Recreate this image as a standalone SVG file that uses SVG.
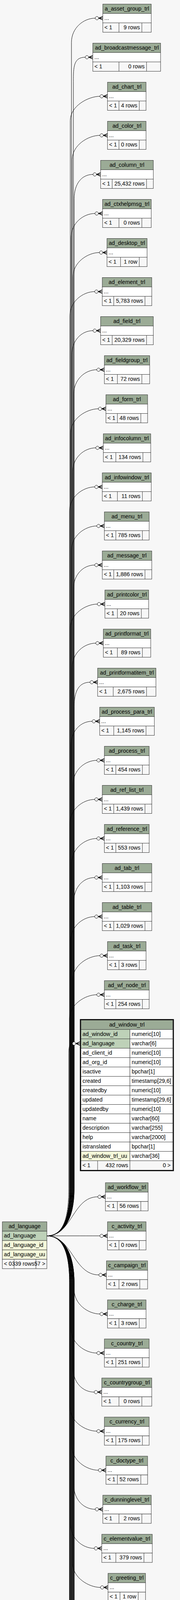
<svg xmlns="http://www.w3.org/2000/svg" width="461" height="6055" viewBox="0 0 461 6055">
<style>
text{font-family:"Liberation Sans",Arial,Helvetica,sans-serif;font-size:14.2px;fill:#000}
.h{fill:#9bab96;stroke:#333;stroke-width:1}
.b{fill:#fff;stroke:#333;stroke-width:1}
.f{fill:#f7f7f7;stroke:#333;stroke-width:1}
.pk{fill:#bed1b8;stroke:#333;stroke-width:1}
.ix{fill:#f4f7da;stroke:#333;stroke-width:1}
.s{fill:none;stroke:#333;stroke-width:1}
.c{text-anchor:middle}
.e{text-anchor:end}
#connectors path{fill:none;stroke:#000;stroke-width:1;marker-end:url(#cr)}
</style>
<defs>
<marker id="cr" markerUnits="userSpaceOnUse" markerWidth="21" markerHeight="13" viewBox="-1 -6.5 21 13" refX="0" refY="0" orient="auto" overflow="visible">
<circle cx="4.3" cy="0" r="4.3" fill="#fff" stroke="#000" stroke-width="1"/>
<path d="M19.3,-4.6 L9,0 L19.3,4.6 M9,0 H19.3" fill="none" stroke="#000" stroke-width="1.6"/>
</marker>
</defs>
<rect x="0" y="0" width="461" height="6055" fill="#f7f7f7"/>
<g id="connectors">
<path d="M120,3163.8 C160,3163.8 183,3123.8 183,3043.8 L183,108.5 C183,71.5 214,46.5 244,46.5"/>
<path d="M120,3163.8 C160,3163.8 188,3123.8 188,3043.8 L188,208.5 C188,171.5 188.4,146.5 218.4,146.5"/>
<path d="M120,3163.8 C160,3163.8 180,3123.8 180,3043.8 L180,308.5 C180,271.5 226,246.5 256,246.5"/>
<path d="M120,3163.8 C160,3163.8 185,3123.8 185,3043.8 L185,408.5 C185,371.5 226,346.5 256,346.5"/>
<path d="M120,3163.8 C160,3163.8 190,3123.8 190,3043.8 L190,508.5 C190,471.5 208.4,446.5 238.4,446.5"/>
<path d="M120,3163.8 C160,3163.8 182,3123.8 182,3043.8 L182,608.5 C182,571.5 213.4,546.5 243.4,546.5"/>
<path d="M120,3163.8 C160,3163.8 187,3123.8 187,3043.8 L187,708.5 C187,671.5 224.7,646.5 254.7,646.5"/>
<path d="M120,3163.8 C160,3163.8 179,3123.8 179,3043.8 L179,808.5 C179,771.5 212.7,746.5 242.7,746.5"/>
<path d="M120,3163.8 C160,3163.8 184,3123.8 184,3043.8 L184,908.5 C184,871.5 208.4,846.5 238.4,846.5"/>
<path d="M120,3163.8 C160,3163.8 189,3123.8 189,3043.8 L189,1008.5 C189,971.5 218,946.5 248,946.5"/>
<path d="M120,3163.8 C160,3163.8 181,3123.8 181,3043.8 L181,1108.5 C181,1071.5 222,1046.5 252,1046.5"/>
<path d="M120,3163.8 C160,3163.8 186,3123.8 186,3043.8 L186,1208.5 C186,1171.5 215.4,1146.5 245.4,1146.5"/>
<path d="M120,3163.8 C160,3163.8 178,3123.8 178,3043.8 L178,1308.5 C178,1271.5 212.7,1246.5 242.7,1246.5"/>
<path d="M120,3163.8 C160,3163.8 183,3123.8 183,3043.8 L183,1408.5 C183,1371.5 218,1346.5 248,1346.5"/>
<path d="M120,3163.8 C160,3163.8 188,3123.8 188,3043.8 L188,1508.5 C188,1471.5 212.7,1446.5 242.7,1446.5"/>
<path d="M120,3163.8 C160,3163.8 180,3123.8 180,3043.8 L180,1608.5 C180,1571.5 219.4,1546.5 249.4,1546.5"/>
<path d="M120,3163.8 C160,3163.8 185,3123.8 185,3043.8 L185,1708.5 C185,1671.5 215.4,1646.5 245.4,1646.5"/>
<path d="M120,3163.8 C160,3163.8 190,3123.8 190,3043.8 L190,1808.5 C190,1771.5 200.7,1746.5 230.7,1746.5"/>
<path d="M120,3163.8 C160,3163.8 182,3123.8 182,3043.8 L182,1908.5 C182,1871.5 206,1846.5 236,1846.5"/>
<path d="M120,3163.8 C160,3163.8 187,3123.8 187,3043.8 L187,2008.5 C187,1971.5 218,1946.5 248,1946.5"/>
<path d="M120,3163.8 C160,3163.8 179,3123.8 179,3043.8 L179,2108.5 C179,2071.5 212.7,2046.5 242.7,2046.5"/>
<path d="M120,3163.8 C160,3163.8 184,3123.8 184,3043.8 L184,2208.5 C184,2171.5 218,2146.5 248,2146.5"/>
<path d="M120,3163.8 C160,3163.8 189,3123.8 189,3043.8 L189,2308.5 C189,2271.5 212.7,2246.5 242.7,2246.5"/>
<path d="M120,3163.8 C160,3163.8 181,3123.8 181,3043.8 L181,2408.5 C181,2371.5 212.7,2346.5 242.7,2346.5"/>
<path d="M120,3163.8 C160,3163.8 186,3123.8 186,3043.8 L186,2508.5 C186,2471.5 226,2446.5 256,2446.5"/>
<path d="M120,3163.8 C160,3163.8 178,3123.8 178,3043.8 L178,2608.5 C178,2571.5 218,2546.5 248,2546.5"/>
<path d="M120,3163.8 C160,3163.8 176,3123.8 176,3043.8 L176,2700 C176,2680 178,2671.5 185.4,2671.5"/>
<path d="M120,3163.8 C185,3163.8 185.7,3063.8 250.7,3063.8"/>
<path d="M120,3163.8 C170,3163.8 206,3163.8 256,3163.8"/>
<path d="M120,3163.8 C185,3163.8 188.4,3263.8 253.4,3263.8"/>
<path d="M120,3163.8 C160,3163.8 190,3203.8 190,3283.8 L190,3301.8 C190,3338.8 226,3363.8 256,3363.8"/>
<path d="M120,3163.8 C160,3163.8 182,3203.8 182,3283.8 L182,3401.8 C182,3438.8 218,3463.8 248,3463.8"/>
<path d="M120,3163.8 C160,3163.8 187,3203.8 187,3283.8 L187,3501.8 C187,3538.8 211.4,3563.8 241.4,3563.8"/>
<path d="M120,3163.8 C160,3163.8 179,3203.8 179,3283.8 L179,3601.8 C179,3638.8 218,3663.8 248,3663.8"/>
<path d="M120,3163.8 C160,3163.8 184,3203.8 184,3283.8 L184,3701.8 C184,3738.8 222,3763.8 252,3763.8"/>
<path d="M120,3163.8 C160,3163.8 189,3203.8 189,3283.8 L189,3801.8 C189,3838.8 214,3863.8 244,3863.8"/>
<path d="M120,3163.8 C160,3163.8 181,3203.8 181,3283.8 L181,3901.8 C181,3938.8 211.4,3963.8 241.4,3963.8"/>
<path d="M120,3163.8 C160,3163.8 186,3203.8 186,3283.8 L186,4001.8 C186,4038.8 227.4,4063.8 257.4,4063.8"/>
<path d="M120,3163.8 C160,3163.8 178,3203.8 178,3283.8 L178,4101.8 C178,4138.8 211.4,4163.8 241.4,4163.8"/>
<path d="M120,3163.8 C160,3163.8 183,3203.8 183,3283.8 L183,4201.8 C183,4238.8 218,4263.8 248,4263.8"/>
<path d="M120,3163.8 C160,3163.8 188,3203.8 188,3283.8 L188,4301.8 C188,4338.8 216.7,4363.8 246.7,4363.8"/>
<path d="M120,3163.8 C160,3163.8 180,3203.8 180,3283.8 L180,4401.8 C180,4438.8 219.4,4463.8 249.4,4463.8"/>
<path d="M120,3163.8 C160,3163.8 185,3203.8 185,3283.8 L185,4501.8 C185,4538.8 226,4563.8 256,4563.8"/>
<path d="M120,3163.8 C160,3163.8 190,3203.8 190,3283.8 L190,4601.8 C190,4638.8 216.7,4663.8 246.7,4663.8"/>
<path d="M120,3163.8 C160,3163.8 182,3203.8 182,3283.8 L182,4701.8 C182,4738.8 222,4763.8 252,4763.8"/>
<path d="M120,3163.8 C160,3163.8 187,3203.8 187,3283.8 L187,4801.8 C187,4838.8 222,4863.8 252,4863.8"/>
<path d="M120,3163.8 C160,3163.8 179,3203.8 179,3283.8 L179,4901.8 C179,4938.8 226,4963.8 256,4963.8"/>
<path d="M120,3163.8 C160,3163.8 184,3203.8 184,3283.8 L184,5001.8 C184,5038.8 200.7,5063.8 230.7,5063.8"/>
<path d="M120,3163.8 C160,3163.8 189,3203.8 189,3283.8 L189,5101.8 C189,5138.8 195.4,5163.8 225.4,5163.8"/>
<path d="M120,3163.8 C160,3163.8 181,3203.8 181,3283.8 L181,5201.8 C181,5238.8 222,5263.8 252,5263.8"/>
<path d="M120,3163.8 C160,3163.8 186,3203.8 186,3283.8 L186,5301.8 C186,5338.8 191.4,5363.8 221.4,5363.8"/>
<path d="M120,3163.8 C160,3163.8 178,3203.8 178,3283.8 L178,5401.8 C178,5438.8 199.4,5463.8 229.4,5463.8"/>
<path d="M120,3163.8 C160,3163.8 183,3203.8 183,3283.8 L183,5501.8 C183,5538.8 207.4,5563.8 237.4,5563.8"/>
<path d="M120,3163.8 C160,3163.8 188,3203.8 188,3283.8 L188,5601.8 C188,5638.8 218,5663.8 248,5663.8"/>
<path d="M120,3163.8 C160,3163.8 180,3203.8 180,3283.8 L180,5701.8 C180,5738.8 226,5763.8 256,5763.8"/>
<path d="M120,3163.8 C160,3163.8 185,3203.8 185,3283.8 L185,5801.8 C185,5838.8 224.7,5863.8 254.7,5863.8"/>
<path d="M120,3163.8 C160,3163.8 190,3203.8 190,3283.8 L190,5901.8 C190,5938.8 230,5963.8 260,5963.8"/>
</g>

<g id="ad_language" transform="translate(0,3127.8)">
<rect class="h" x="6" y="0" width="114" height="24"/>
<rect class="pk" x="6" y="24" width="114" height="24"/>
<rect class="ix" x="6" y="48" width="114" height="24"/>
<rect class="ix" x="6" y="72" width="114" height="24"/>
<rect class="f" x="6" y="96" width="114" height="24"/>
<path class="s" d="M36,96 V120 M92,96 V120"/>
<text class="c" x="63" y="16.5">ad_language</text>
<text x="10" y="40.5">ad_language</text>
<text x="10" y="64.5">ad_language_id</text>
<text x="10" y="88.5">ad_language_uu</text>
<text x="10" y="112.5">&lt; 0</text>
<text class="e" x="88" y="112.5">339 rows</text>
<text class="e" x="116" y="112.5">57 &gt;</text>
</g>

<g id="a_asset_group_trl" transform="translate(0,10.5)"><rect class="h" x="263.3" y="0" width="124" height="24"/><rect class="b" x="263.3" y="24" width="124" height="24"/><rect class="f" x="263.3" y="48" width="124" height="24"/><path class="s" d="M304.7,48 V72 M363.3,48 V72"/><text class="c" x="325" y="16.5">a_asset_group_trl</text><text x="267.3" y="40">...</text><text x="267.3" y="64.5">&lt; 1</text><text class="e" x="358.3" y="64.5">9 rows</text></g>
<g id="ad_broadcastmessage_trl" transform="translate(0,110.5)"><rect class="h" x="237.7" y="0" width="173.6" height="24"/><rect class="b" x="237.7" y="24" width="173.6" height="24"/><rect class="f" x="237.7" y="48" width="173.6" height="24"/><path class="s" d="M304.7,48 V72 M375.3,48 V72"/><text class="c" x="325" y="16.5">ad_broadcastmessage_trl</text><text x="241.7" y="40">...</text><text x="241.7" y="64.5">&lt; 1</text><text class="e" x="370.3" y="64.5">0 rows</text></g>
<g id="ad_chart_trl" transform="translate(0,210.5)"><rect class="h" x="275.3" y="0" width="98.7" height="24"/><rect class="b" x="275.3" y="24" width="98.7" height="24"/><rect class="f" x="275.3" y="48" width="98.7" height="24"/><path class="s" d="M304.7,48 V72 M356.7,48 V72"/><text class="c" x="325" y="16.5">ad_chart_trl</text><text x="279.3" y="40">...</text><text x="279.3" y="64.5">&lt; 1</text><text class="e" x="351.7" y="64.5">4 rows</text></g>
<g id="ad_color_trl" transform="translate(0,310.5)"><rect class="h" x="275.3" y="0" width="98.7" height="24"/><rect class="b" x="275.3" y="24" width="98.7" height="24"/><rect class="f" x="275.3" y="48" width="98.7" height="24"/><path class="s" d="M304.7,48 V72 M356.7,48 V72"/><text class="c" x="325" y="16.5">ad_color_trl</text><text x="279.3" y="40">...</text><text x="279.3" y="64.5">&lt; 1</text><text class="e" x="351.7" y="64.5">0 rows</text></g>
<g id="ad_column_trl" transform="translate(0,410.5)"><rect class="h" x="257.7" y="0" width="135" height="24"/><rect class="b" x="257.7" y="24" width="135" height="24"/><rect class="f" x="257.7" y="48" width="135" height="24"/><path class="s" d="M287.3,48 V72 M375.3,48 V72"/><text class="c" x="325" y="16.5">ad_column_trl</text><text x="261.7" y="40">...</text><text x="261.7" y="64.5">&lt; 1</text><text class="e" x="370.3" y="64.5">25,432 rows</text></g>
<g id="ad_ctxhelpmsg_trl" transform="translate(0,510.5)"><rect class="h" x="262.7" y="0" width="124.6" height="24"/><rect class="b" x="262.7" y="24" width="124.6" height="24"/><rect class="f" x="262.7" y="48" width="124.6" height="24"/><path class="s" d="M304.7,48 V72 M363.3,48 V72"/><text class="c" x="325" y="16.5">ad_ctxhelpmsg_trl</text><text x="266.7" y="40">...</text><text x="266.7" y="64.5">&lt; 1</text><text class="e" x="358.3" y="64.5">0 rows</text></g>
<g id="ad_desktop_trl" transform="translate(0,610.5)"><rect class="h" x="274" y="0" width="102.7" height="24"/><rect class="b" x="274" y="24" width="102.7" height="24"/><rect class="f" x="274" y="48" width="102.7" height="24"/><path class="s" d="M308.7,48 V72 M356.7,48 V72"/><text class="c" x="325" y="16.5">ad_desktop_trl</text><text x="278" y="40">...</text><text x="278" y="64.5">&lt; 1</text><text class="e" x="351.7" y="64.5">1 row</text></g>
<g id="ad_element_trl" transform="translate(0,710.5)"><rect class="h" x="262" y="0" width="126.7" height="24"/><rect class="b" x="262" y="24" width="126.7" height="24"/><rect class="f" x="262" y="48" width="126.7" height="24"/><path class="s" d="M291.3,48 V72 M371.3,48 V72"/><text class="c" x="325" y="16.5">ad_element_trl</text><text x="266" y="40">...</text><text x="266" y="64.5">&lt; 1</text><text class="e" x="366.3" y="64.5">5,783 rows</text></g>
<g id="ad_field_trl" transform="translate(0,810.5)"><rect class="h" x="257.7" y="0" width="135" height="24"/><rect class="b" x="257.7" y="24" width="135" height="24"/><rect class="f" x="257.7" y="48" width="135" height="24"/><path class="s" d="M287.3,48 V72 M375.3,48 V72"/><text class="c" x="325" y="16.5">ad_field_trl</text><text x="261.7" y="40">...</text><text x="261.7" y="64.5">&lt; 1</text><text class="e" x="370.3" y="64.5">20,329 rows</text></g>
<g id="ad_fieldgroup_trl" transform="translate(0,910.5)"><rect class="h" x="267.3" y="0" width="116" height="24"/><rect class="b" x="267.3" y="24" width="116" height="24"/><rect class="f" x="267.3" y="48" width="116" height="24"/><path class="s" d="M300.7,48 V72 M363.3,48 V72"/><text class="c" x="325" y="16.5">ad_fieldgroup_trl</text><text x="271.3" y="40">...</text><text x="271.3" y="64.5">&lt; 1</text><text class="e" x="358.3" y="64.5">72 rows</text></g>
<g id="ad_form_trl" transform="translate(0,1010.5)"><rect class="h" x="271.3" y="0" width="106.7" height="24"/><rect class="b" x="271.3" y="24" width="106.7" height="24"/><rect class="f" x="271.3" y="48" width="106.7" height="24"/><path class="s" d="M300.7,48 V72 M360.7,48 V72"/><text class="c" x="325" y="16.5">ad_form_trl</text><text x="275.3" y="40">...</text><text x="275.3" y="64.5">&lt; 1</text><text class="e" x="355.7" y="64.5">48 rows</text></g>
<g id="ad_infocolumn_trl" transform="translate(0,1110.5)"><rect class="h" x="264.7" y="0" width="121.3" height="24"/><rect class="b" x="264.7" y="24" width="121.3" height="24"/><rect class="f" x="264.7" y="48" width="121.3" height="24"/><path class="s" d="M296.7,48 V72 M366,48 V72"/><text class="c" x="325" y="16.5">ad_infocolumn_trl</text><text x="268.7" y="40">...</text><text x="268.7" y="64.5">&lt; 1</text><text class="e" x="361" y="64.5">134 rows</text></g>
<g id="ad_infowindow_trl" transform="translate(0,1210.5)"><rect class="h" x="262" y="0" width="125.3" height="24"/><rect class="b" x="262" y="24" width="125.3" height="24"/><rect class="f" x="262" y="48" width="125.3" height="24"/><path class="s" d="M300.7,48 V72 M364.7,48 V72"/><text class="c" x="325" y="16.5">ad_infowindow_trl</text><text x="266" y="40">...</text><text x="266" y="64.5">&lt; 1</text><text class="e" x="359.7" y="64.5">11 rows</text></g>
<g id="ad_menu_trl" transform="translate(0,1310.5)"><rect class="h" x="267.3" y="0" width="114.7" height="24"/><rect class="b" x="267.3" y="24" width="114.7" height="24"/><rect class="f" x="267.3" y="48" width="114.7" height="24"/><path class="s" d="M296.7,48 V72 M364.7,48 V72"/><text class="c" x="325" y="16.5">ad_menu_trl</text><text x="271.3" y="40">...</text><text x="271.3" y="64.5">&lt; 1</text><text class="e" x="359.7" y="64.5">785 rows</text></g>
<g id="ad_message_trl" transform="translate(0,1410.5)"><rect class="h" x="262" y="0" width="126.7" height="24"/><rect class="b" x="262" y="24" width="126.7" height="24"/><rect class="f" x="262" y="48" width="126.7" height="24"/><path class="s" d="M291.3,48 V72 M371.3,48 V72"/><text class="c" x="325" y="16.5">ad_message_trl</text><text x="266" y="40">...</text><text x="266" y="64.5">&lt; 1</text><text class="e" x="366.3" y="64.5">1,886 rows</text></g>
<g id="ad_printcolor_trl" transform="translate(0,1510.5)"><rect class="h" x="268.7" y="0" width="112" height="24"/><rect class="b" x="268.7" y="24" width="112" height="24"/><rect class="f" x="268.7" y="48" width="112" height="24"/><path class="s" d="M300.7,48 V72 M362,48 V72"/><text class="c" x="325" y="16.5">ad_printcolor_trl</text><text x="272.7" y="40">...</text><text x="272.7" y="64.5">&lt; 1</text><text class="e" x="357" y="64.5">20 rows</text></g>
<g id="ad_printformat_trl" transform="translate(0,1610.5)"><rect class="h" x="264.7" y="0" width="121.3" height="24"/><rect class="b" x="264.7" y="24" width="121.3" height="24"/><rect class="f" x="264.7" y="48" width="121.3" height="24"/><path class="s" d="M300.7,48 V72 M364.7,48 V72"/><text class="c" x="325" y="16.5">ad_printformat_trl</text><text x="268.7" y="40">...</text><text x="268.7" y="64.5">&lt; 1</text><text class="e" x="359.7" y="64.5">89 rows</text></g>
<g id="ad_printformatitem_trl" transform="translate(0,1710.5)"><rect class="h" x="250" y="0" width="149.3" height="24"/><rect class="b" x="250" y="24" width="149.3" height="24"/><rect class="f" x="250" y="48" width="149.3" height="24"/><path class="s" d="M290,48 V72 M375.3,48 V72"/><text class="c" x="325" y="16.5">ad_printformatitem_trl</text><text x="254" y="40">...</text><text x="254" y="64.5">&lt; 1</text><text class="e" x="370.3" y="64.5">2,675 rows</text></g>
<g id="ad_process_para_trl" transform="translate(0,1810.5)"><rect class="h" x="255.3" y="0" width="140" height="24"/><rect class="b" x="255.3" y="24" width="140" height="24"/><rect class="f" x="255.3" y="48" width="140" height="24"/><path class="s" d="M291.3,48 V72 M374,48 V72"/><text class="c" x="325" y="16.5">ad_process_para_trl</text><text x="259.3" y="40">...</text><text x="259.3" y="64.5">&lt; 1</text><text class="e" x="369" y="64.5">1,145 rows</text></g>
<g id="ad_process_trl" transform="translate(0,1910.5)"><rect class="h" x="267.3" y="0" width="114.7" height="24"/><rect class="b" x="267.3" y="24" width="114.7" height="24"/><rect class="f" x="267.3" y="48" width="114.7" height="24"/><path class="s" d="M296.7,48 V72 M364.7,48 V72"/><text class="c" x="325" y="16.5">ad_process_trl</text><text x="271.3" y="40">...</text><text x="271.3" y="64.5">&lt; 1</text><text class="e" x="359.7" y="64.5">454 rows</text></g>
<g id="ad_ref_list_trl" transform="translate(0,2010.5)"><rect class="h" x="262" y="0" width="126.7" height="24"/><rect class="b" x="262" y="24" width="126.7" height="24"/><rect class="f" x="262" y="48" width="126.7" height="24"/><path class="s" d="M291.3,48 V72 M371.3,48 V72"/><text class="c" x="325" y="16.5">ad_ref_list_trl</text><text x="266" y="40">...</text><text x="266" y="64.5">&lt; 1</text><text class="e" x="366.3" y="64.5">1,439 rows</text></g>
<g id="ad_reference_trl" transform="translate(0,2110.5)"><rect class="h" x="267.3" y="0" width="114.7" height="24"/><rect class="b" x="267.3" y="24" width="114.7" height="24"/><rect class="f" x="267.3" y="48" width="114.7" height="24"/><path class="s" d="M296.7,48 V72 M364.7,48 V72"/><text class="c" x="325" y="16.5">ad_reference_trl</text><text x="271.3" y="40">...</text><text x="271.3" y="64.5">&lt; 1</text><text class="e" x="359.7" y="64.5">553 rows</text></g>
<g id="ad_tab_trl" transform="translate(0,2210.5)"><rect class="h" x="262" y="0" width="126.7" height="24"/><rect class="b" x="262" y="24" width="126.7" height="24"/><rect class="f" x="262" y="48" width="126.7" height="24"/><path class="s" d="M291.3,48 V72 M371.3,48 V72"/><text class="c" x="325" y="16.5">ad_tab_trl</text><text x="266" y="40">...</text><text x="266" y="64.5">&lt; 1</text><text class="e" x="366.3" y="64.5">1,103 rows</text></g>
<g id="ad_table_trl" transform="translate(0,2310.5)"><rect class="h" x="262" y="0" width="126.7" height="24"/><rect class="b" x="262" y="24" width="126.7" height="24"/><rect class="f" x="262" y="48" width="126.7" height="24"/><path class="s" d="M291.3,48 V72 M371.3,48 V72"/><text class="c" x="325" y="16.5">ad_table_trl</text><text x="266" y="40">...</text><text x="266" y="64.5">&lt; 1</text><text class="e" x="366.3" y="64.5">1,029 rows</text></g>
<g id="ad_task_trl" transform="translate(0,2410.5)"><rect class="h" x="275.3" y="0" width="98.7" height="24"/><rect class="b" x="275.3" y="24" width="98.7" height="24"/><rect class="f" x="275.3" y="48" width="98.7" height="24"/><path class="s" d="M304.7,48 V72 M356.7,48 V72"/><text class="c" x="325" y="16.5">ad_task_trl</text><text x="279.3" y="40">...</text><text x="279.3" y="64.5">&lt; 1</text><text class="e" x="351.7" y="64.5">3 rows</text></g>
<g id="ad_wf_node_trl" transform="translate(0,2510.5)"><rect class="h" x="267.3" y="0" width="114.7" height="24"/><rect class="b" x="267.3" y="24" width="114.7" height="24"/><rect class="f" x="267.3" y="48" width="114.7" height="24"/><path class="s" d="M296.7,48 V72 M364.7,48 V72"/><text class="c" x="325" y="16.5">ad_wf_node_trl</text><text x="271.3" y="40">...</text><text x="271.3" y="64.5">&lt; 1</text><text class="e" x="359.7" y="64.5">254 rows</text></g>

<g id="ad_window_trl" transform="translate(0,2611.5)">
<rect x="206" y="-1.3" width="238" height="386.6" fill="none" stroke="#000" stroke-width="2.6"/>
<rect class="h" x="207.3" y="0" width="235.4" height="24"/>
<rect class="pk" x="207.3" y="24" width="125.4" height="24"/><rect class="b" x="332.7" y="24" width="110" height="24"/>
<rect class="pk" x="207.3" y="48" width="125.4" height="24"/><rect class="b" x="332.7" y="48" width="110" height="24"/>
<rect class="b" x="207.3" y="72" width="125.4" height="24"/><rect class="b" x="332.7" y="72" width="110" height="24"/>
<rect class="b" x="207.3" y="96" width="125.4" height="24"/><rect class="b" x="332.7" y="96" width="110" height="24"/>
<rect class="b" x="207.3" y="120" width="125.4" height="24"/><rect class="b" x="332.7" y="120" width="110" height="24"/>
<rect class="b" x="207.3" y="144" width="125.4" height="24"/><rect class="b" x="332.7" y="144" width="110" height="24"/>
<rect class="b" x="207.3" y="168" width="125.4" height="24"/><rect class="b" x="332.7" y="168" width="110" height="24"/>
<rect class="b" x="207.3" y="192" width="125.4" height="24"/><rect class="b" x="332.7" y="192" width="110" height="24"/>
<rect class="b" x="207.3" y="216" width="125.4" height="24"/><rect class="b" x="332.7" y="216" width="110" height="24"/>
<rect class="b" x="207.3" y="240" width="125.4" height="24"/><rect class="b" x="332.7" y="240" width="110" height="24"/>
<rect class="b" x="207.3" y="264" width="125.4" height="24"/><rect class="b" x="332.7" y="264" width="110" height="24"/>
<rect class="b" x="207.3" y="288" width="125.4" height="24"/><rect class="b" x="332.7" y="288" width="110" height="24"/>
<rect class="b" x="207.3" y="312" width="125.4" height="24"/><rect class="b" x="332.7" y="312" width="110" height="24"/>
<rect class="ix" x="207.3" y="336" width="125.4" height="24"/><rect class="b" x="332.7" y="336" width="110" height="24"/>
<rect class="f" x="207.3" y="360" width="235.4" height="24"/>
<path class="s" d="M250,360 V384 M332.7,360 V384"/>
<text class="c" x="325" y="16.5">ad_window_trl</text>
<text x="211.3" y="40.5">ad_window_id</text><text x="337.3" y="40.5">numeric[10]</text>
<text x="211.3" y="64.5">ad_language</text><text x="337.3" y="64.5">varchar[6]</text>
<text x="211.3" y="88.5">ad_client_id</text><text x="337.3" y="88.5">numeric[10]</text>
<text x="211.3" y="112.5">ad_org_id</text><text x="337.3" y="112.5">numeric[10]</text>
<text x="211.3" y="136.5">isactive</text><text x="337.3" y="136.5">bpchar[1]</text>
<text x="211.3" y="160.5">created</text><text x="337.3" y="160.5">timestamp[29,6]</text>
<text x="211.3" y="184.5">createdby</text><text x="337.3" y="184.5">numeric[10]</text>
<text x="211.3" y="208.5">updated</text><text x="337.3" y="208.5">timestamp[29,6]</text>
<text x="211.3" y="232.5">updatedby</text><text x="337.3" y="232.5">numeric[10]</text>
<text x="211.3" y="256.5">name</text><text x="337.3" y="256.5">varchar[60]</text>
<text x="211.3" y="280.5">description</text><text x="337.3" y="280.5">varchar[255]</text>
<text x="211.3" y="304.5">help</text><text x="337.3" y="304.5">varchar[2000]</text>
<text x="211.3" y="328.5">istranslated</text><text x="337.3" y="328.5">bpchar[1]</text>
<text x="211.3" y="352.5">ad_window_trl_uu</text><text x="337.3" y="352.5">varchar[36]</text>
<text x="211.3" y="376.5">&lt; 1</text><text class="e" x="328" y="376.5">432 rows</text><text class="e" x="437" y="376.5">0 &gt;</text>
</g>

<g id="ad_workflow_trl" transform="translate(0,3027.8)"><rect class="h" x="270" y="0" width="109.3" height="24"/><rect class="b" x="270" y="24" width="109.3" height="24"/><rect class="f" x="270" y="48" width="109.3" height="24"/><path class="s" d="M300.7,48 V72 M360.7,48 V72"/><text class="c" x="325" y="16.5">ad_workflow_trl</text><text x="274" y="40">...</text><text x="274" y="64.5">&lt; 1</text><text class="e" x="355.7" y="64.5">56 rows</text></g>
<g id="c_activity_trl" transform="translate(0,3127.8)"><rect class="h" x="275.3" y="0" width="98.7" height="24"/><rect class="b" x="275.3" y="24" width="98.7" height="24"/><rect class="f" x="275.3" y="48" width="98.7" height="24"/><path class="s" d="M304.7,48 V72 M356.7,48 V72"/><text class="c" x="325" y="16.5">c_activity_trl</text><text x="279.3" y="40">...</text><text x="279.3" y="64.5">&lt; 1</text><text class="e" x="351.7" y="64.5">0 rows</text></g>
<g id="c_campaign_trl" transform="translate(0,3227.8)"><rect class="h" x="272.7" y="0" width="105.3" height="24"/><rect class="b" x="272.7" y="24" width="105.3" height="24"/><rect class="f" x="272.7" y="48" width="105.3" height="24"/><path class="s" d="M304.7,48 V72 M358,48 V72"/><text class="c" x="325" y="16.5">c_campaign_trl</text><text x="276.7" y="40">...</text><text x="276.7" y="64.5">&lt; 1</text><text class="e" x="353" y="64.5">2 rows</text></g>
<g id="c_charge_trl" transform="translate(0,3327.8)"><rect class="h" x="275.3" y="0" width="98.7" height="24"/><rect class="b" x="275.3" y="24" width="98.7" height="24"/><rect class="f" x="275.3" y="48" width="98.7" height="24"/><path class="s" d="M304.7,48 V72 M356.7,48 V72"/><text class="c" x="325" y="16.5">c_charge_trl</text><text x="279.3" y="40">...</text><text x="279.3" y="64.5">&lt; 1</text><text class="e" x="351.7" y="64.5">3 rows</text></g>
<g id="c_country_trl" transform="translate(0,3427.8)"><rect class="h" x="267.3" y="0" width="114.7" height="24"/><rect class="b" x="267.3" y="24" width="114.7" height="24"/><rect class="f" x="267.3" y="48" width="114.7" height="24"/><path class="s" d="M296.7,48 V72 M364.7,48 V72"/><text class="c" x="325" y="16.5">c_country_trl</text><text x="271.3" y="40">...</text><text x="271.3" y="64.5">&lt; 1</text><text class="e" x="359.7" y="64.5">251 rows</text></g>
<g id="c_countrygroup_trl" transform="translate(0,3527.8)"><rect class="h" x="260.7" y="0" width="128" height="24"/><rect class="b" x="260.7" y="24" width="128" height="24"/><rect class="f" x="260.7" y="48" width="128" height="24"/><path class="s" d="M304.7,48 V72 M363.3,48 V72"/><text class="c" x="325" y="16.5">c_countrygroup_trl</text><text x="264.7" y="40">...</text><text x="264.7" y="64.5">&lt; 1</text><text class="e" x="358.3" y="64.5">0 rows</text></g>
<g id="c_currency_trl" transform="translate(0,3627.8)"><rect class="h" x="267.3" y="0" width="114.7" height="24"/><rect class="b" x="267.3" y="24" width="114.7" height="24"/><rect class="f" x="267.3" y="48" width="114.7" height="24"/><path class="s" d="M296.7,48 V72 M364.7,48 V72"/><text class="c" x="325" y="16.5">c_currency_trl</text><text x="271.3" y="40">...</text><text x="271.3" y="64.5">&lt; 1</text><text class="e" x="359.7" y="64.5">175 rows</text></g>
<g id="c_doctype_trl" transform="translate(0,3727.8)"><rect class="h" x="271.3" y="0" width="106.7" height="24"/><rect class="b" x="271.3" y="24" width="106.7" height="24"/><rect class="f" x="271.3" y="48" width="106.7" height="24"/><path class="s" d="M300.7,48 V72 M360.7,48 V72"/><text class="c" x="325" y="16.5">c_doctype_trl</text><text x="275.3" y="40">...</text><text x="275.3" y="64.5">&lt; 1</text><text class="e" x="355.7" y="64.5">52 rows</text></g>
<g id="c_dunninglevel_trl" transform="translate(0,3827.8)"><rect class="h" x="263.3" y="0" width="124" height="24"/><rect class="b" x="263.3" y="24" width="124" height="24"/><rect class="f" x="263.3" y="48" width="124" height="24"/><path class="s" d="M304.7,48 V72 M363.3,48 V72"/><text class="c" x="325" y="16.5">c_dunninglevel_trl</text><text x="267.3" y="40">...</text><text x="267.3" y="64.5">&lt; 1</text><text class="e" x="358.3" y="64.5">2 rows</text></g>
<g id="c_elementvalue_trl" transform="translate(0,3927.8)"><rect class="h" x="260.7" y="0" width="129.3" height="24"/><rect class="b" x="260.7" y="24" width="129.3" height="24"/><rect class="f" x="260.7" y="48" width="129.3" height="24"/><path class="s" d="M296.7,48 V72 M368.7,48 V72"/><text class="c" x="325" y="16.5">c_elementvalue_trl</text><text x="264.7" y="40">...</text><text x="264.7" y="64.5">&lt; 1</text><text class="e" x="363.7" y="64.5">379 rows</text></g>
<g id="c_greeting_trl" transform="translate(0,4027.8)"><rect class="h" x="276.7" y="0" width="96" height="24"/><rect class="b" x="276.7" y="24" width="96" height="24"/><rect class="f" x="276.7" y="48" width="96" height="24"/><path class="s" d="M307.3,48 V72 M354,48 V72"/><text class="c" x="325" y="16.5">c_greeting_trl</text><text x="280.7" y="40">...</text><text x="280.7" y="64.5">&lt; 1</text><text class="e" x="349" y="64.5">1 row</text></g>
<g id="c_paymentterm_trl" transform="translate(0,4127.8)"><rect class="h" x="260.7" y="0" width="128" height="24"/><rect class="b" x="260.7" y="24" width="128" height="24"/><rect class="f" x="260.7" y="48" width="128" height="24"/><path class="s" d="M304.7,48 V72 M363.3,48 V72"/><text class="c" x="325" y="16.5">c_paymentterm_trl</text><text x="264.7" y="40">...</text><text x="264.7" y="64.5">&lt; 1</text><text class="e" x="358.3" y="64.5">5 rows</text></g>
<g id="c_region_trl" transform="translate(0,4227.8)"><rect class="h" x="267.3" y="0" width="114.7" height="24"/><rect class="b" x="267.3" y="24" width="114.7" height="24"/><rect class="f" x="267.3" y="48" width="114.7" height="24"/><path class="s" d="M296.7,48 V72 M364.7,48 V72"/><text class="c" x="325" y="16.5">c_region_trl</text><text x="271.3" y="40">...</text><text x="271.3" y="64.5">&lt; 1</text><text class="e" x="359.7" y="64.5">399 rows</text></g>
<g id="c_salesregion_trl" transform="translate(0,4327.8)"><rect class="h" x="266" y="0" width="117.3" height="24"/><rect class="b" x="266" y="24" width="117.3" height="24"/><rect class="f" x="266" y="48" width="117.3" height="24"/><path class="s" d="M304.7,48 V72 M360.7,48 V72"/><text class="c" x="325" y="16.5">c_salesregion_trl</text><text x="270" y="40">...</text><text x="270" y="64.5">&lt; 1</text><text class="e" x="355.7" y="64.5">2 rows</text></g>
<g id="c_salesstage_trl" transform="translate(0,4427.8)"><rect class="h" x="268.7" y="0" width="112" height="24"/><rect class="b" x="268.7" y="24" width="112" height="24"/><rect class="f" x="268.7" y="48" width="112" height="24"/><path class="s" d="M304.7,48 V72 M359.3,48 V72"/><text class="c" x="325" y="16.5">c_salesstage_trl</text><text x="272.7" y="40">...</text><text x="272.7" y="64.5">&lt; 1</text><text class="e" x="354.3" y="64.5">0 rows</text></g>
<g id="c_tax_trl" transform="translate(0,4527.8)"><rect class="h" x="275.3" y="0" width="98.7" height="24"/><rect class="b" x="275.3" y="24" width="98.7" height="24"/><rect class="f" x="275.3" y="48" width="98.7" height="24"/><path class="s" d="M304.7,48 V72 M356.7,48 V72"/><text class="c" x="325" y="16.5">c_tax_trl</text><text x="279.3" y="40">...</text><text x="279.3" y="64.5">&lt; 1</text><text class="e" x="351.7" y="64.5">6 rows</text></g>
<g id="c_taxcategory_trl" transform="translate(0,4627.8)"><rect class="h" x="266" y="0" width="117.3" height="24"/><rect class="b" x="266" y="24" width="117.3" height="24"/><rect class="f" x="266" y="48" width="117.3" height="24"/><path class="s" d="M307.3,48 V72 M359.3,48 V72"/><text class="c" x="325" y="16.5">c_taxcategory_trl</text><text x="270" y="40">...</text><text x="270" y="64.5">&lt; 1</text><text class="e" x="354.3" y="64.5">1 row</text></g>
<g id="c_uom_trl" transform="translate(0,4727.8)"><rect class="h" x="271.3" y="0" width="106.7" height="24"/><rect class="b" x="271.3" y="24" width="106.7" height="24"/><rect class="f" x="271.3" y="48" width="106.7" height="24"/><path class="s" d="M300.7,48 V72 M360.7,48 V72"/><text class="c" x="325" y="16.5">c_uom_trl</text><text x="275.3" y="40">...</text><text x="275.3" y="64.5">&lt; 1</text><text class="e" x="355.7" y="64.5">15 rows</text></g>
<g id="gl_category_trl" transform="translate(0,4827.8)"><rect class="h" x="271.3" y="0" width="106.7" height="24"/><rect class="b" x="271.3" y="24" width="106.7" height="24"/><rect class="f" x="271.3" y="48" width="106.7" height="24"/><path class="s" d="M300.7,48 V72 M360.7,48 V72"/><text class="c" x="325" y="16.5">gl_category_trl</text><text x="275.3" y="40">...</text><text x="275.3" y="64.5">&lt; 1</text><text class="e" x="355.7" y="64.5">10 rows</text></g>
<g id="m_pricelist_trl" transform="translate(0,4927.8)"><rect class="h" x="275.3" y="0" width="98.7" height="24"/><rect class="b" x="275.3" y="24" width="98.7" height="24"/><rect class="f" x="275.3" y="48" width="98.7" height="24"/><path class="s" d="M304.7,48 V72 M356.7,48 V72"/><text class="c" x="325" y="16.5">m_pricelist_trl</text><text x="279.3" y="40">...</text><text x="279.3" y="64.5">&lt; 1</text><text class="e" x="351.7" y="64.5">3 rows</text></g>
<g id="m_pricelist_version_trl" transform="translate(0,5027.8)"><rect class="h" x="250" y="0" width="150.7" height="24"/><rect class="b" x="250" y="24" width="150.7" height="24"/><rect class="f" x="250" y="48" width="150.7" height="24"/><path class="s" d="M304.7,48 V72 M370,48 V72"/><text class="c" x="325" y="16.5">m_pricelist_version_trl</text><text x="254" y="40">...</text><text x="254" y="64.5">&lt; 1</text><text class="e" x="365" y="64.5">5 rows</text></g>
<g id="m_product_category_trl" transform="translate(0,5127.8)"><rect class="h" x="244.7" y="0" width="160" height="24"/><rect class="b" x="244.7" y="24" width="160" height="24"/><rect class="f" x="244.7" y="48" width="160" height="24"/><path class="s" d="M300.7,48 V72 M374,48 V72"/><text class="c" x="325" y="16.5">m_product_category_trl</text><text x="248.7" y="40">...</text><text x="248.7" y="64.5">&lt; 1</text><text class="e" x="369" y="64.5">14 rows</text></g>
<g id="m_product_trl" transform="translate(0,5227.8)"><rect class="h" x="271.3" y="0" width="106.7" height="24"/><rect class="b" x="271.3" y="24" width="106.7" height="24"/><rect class="f" x="271.3" y="48" width="106.7" height="24"/><path class="s" d="M300.7,48 V72 M360.7,48 V72"/><text class="c" x="325" y="16.5">m_product_trl</text><text x="275.3" y="40">...</text><text x="275.3" y="64.5">&lt; 1</text><text class="e" x="355.7" y="64.5">55 rows</text></g>
<g id="pa_dashboardcontent_trl" transform="translate(0,5327.8)"><rect class="h" x="240.7" y="0" width="168" height="24"/><rect class="b" x="240.7" y="24" width="168" height="24"/><rect class="f" x="240.7" y="48" width="168" height="24"/><path class="s" d="M300.7,48 V72 M375.3,48 V72"/><text class="c" x="325" y="16.5">pa_dashboardcontent_trl</text><text x="244.7" y="40">...</text><text x="244.7" y="64.5">&lt; 1</text><text class="e" x="370.3" y="64.5">10 rows</text></g>
<g id="pa_documentstatus_trl" transform="translate(0,5427.8)"><rect class="h" x="248.7" y="0" width="153.3" height="24"/><rect class="b" x="248.7" y="24" width="153.3" height="24"/><rect class="f" x="248.7" y="48" width="153.3" height="24"/><path class="s" d="M304.7,48 V72 M370,48 V72"/><text class="c" x="325" y="16.5">pa_documentstatus_trl</text><text x="252.7" y="40">...</text><text x="252.7" y="64.5">&lt; 1</text><text class="e" x="365" y="64.5">6 rows</text></g>
<g id="pa_reportcolumn_trl" transform="translate(0,5527.8)"><rect class="h" x="256.7" y="0" width="137.3" height="24"/><rect class="b" x="256.7" y="24" width="137.3" height="24"/><rect class="f" x="256.7" y="48" width="137.3" height="24"/><path class="s" d="M300.7,48 V72 M368.7,48 V72"/><text class="c" x="325" y="16.5">pa_reportcolumn_trl</text><text x="260.7" y="40">...</text><text x="260.7" y="64.5">&lt; 1</text><text class="e" x="363.7" y="64.5">17 rows</text></g>
<g id="pa_reportline_trl" transform="translate(0,5627.8)"><rect class="h" x="267.3" y="0" width="114.7" height="24"/><rect class="b" x="267.3" y="24" width="114.7" height="24"/><rect class="f" x="267.3" y="48" width="114.7" height="24"/><path class="s" d="M296.7,48 V72 M364.7,48 V72"/><text class="c" x="325" y="16.5">pa_reportline_trl</text><text x="271.3" y="40">...</text><text x="271.3" y="64.5">&lt; 1</text><text class="e" x="359.7" y="64.5">113 rows</text></g>
<g id="r_mailtext_trl" transform="translate(0,5727.8)"><rect class="h" x="275.3" y="0" width="98.7" height="24"/><rect class="b" x="275.3" y="24" width="98.7" height="24"/><rect class="f" x="275.3" y="48" width="98.7" height="24"/><path class="s" d="M304.7,48 V72 M356.7,48 V72"/><text class="c" x="325" y="16.5">r_mailtext_trl</text><text x="279.3" y="40">...</text><text x="279.3" y="64.5">&lt; 1</text><text class="e" x="351.7" y="64.5">3 rows</text></g>
<g id="w_mailmsg_trl" transform="translate(0,5827.8)"><rect class="h" x="274" y="0" width="101.3" height="24"/><rect class="b" x="274" y="24" width="101.3" height="24"/><rect class="f" x="274" y="48" width="101.3" height="24"/><path class="s" d="M304.7,48 V72 M356.7,48 V72"/><text class="c" x="325" y="16.5">w_mailmsg_trl</text><text x="278" y="40">...</text><text x="278" y="64.5">&lt; 1</text><text class="e" x="351.7" y="64.5">0 rows</text></g>
<g id="w_store_trl" transform="translate(0,5927.8)"><rect class="h" x="279.3" y="0" width="92" height="24"/><rect class="b" x="279.3" y="24" width="92" height="24"/><rect class="f" x="279.3" y="48" width="92" height="24"/><path class="s" d="M308.7,48 V72 M354,48 V72"/><text class="c" x="325" y="16.5">w_store_trl</text><text x="283.3" y="40">...</text><text x="283.3" y="64.5">&lt; 1</text><text class="e" x="349" y="64.5">1 row</text></g>

<text x="16.7" y="6040">Generated by SchemaSpy</text>
</svg>
